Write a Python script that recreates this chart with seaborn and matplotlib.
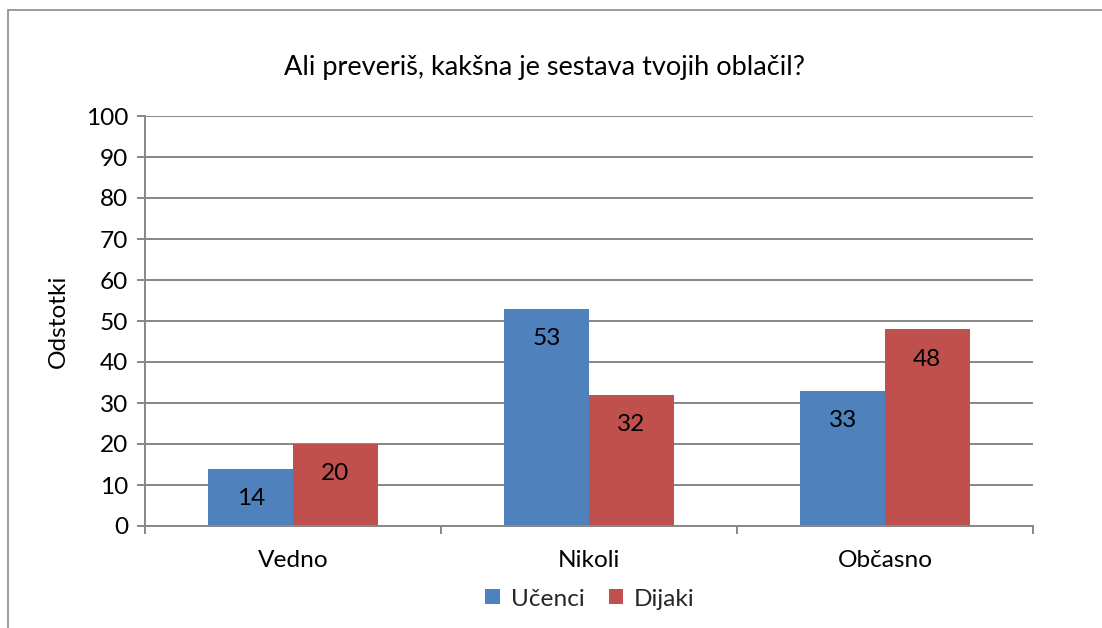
import matplotlib
matplotlib.use("Agg")
import matplotlib.pyplot as plt
import seaborn as sns
import pandas as pd
from matplotlib.patches import Rectangle

categories = ["Vedno", "Nikoli", "Občasno"]
ucenci = [14, 53, 33]
dijaki = [20, 32, 48]
series_names = ["Učenci", "Dijaki"]
yticks = list(range(0, 101, 10))

df = pd.DataFrame({
    "kategorija": categories * 2,
    "vrednost": ucenci + dijaki,
    "skupina": [series_names[0]] * 3 + [series_names[1]] * 3,
})

sns.set_theme(style="white")
plt.rcParams['font.family'] = ['Lato', 'DejaVu Sans']

FS = 17.6
W, H = 1102, 628
fig = plt.figure(figsize=(W / 100, H / 100), dpi=100)
ax = fig.add_axes([145 / W, 1 - 526 / H, (1033 - 145) / W, (526 - 116) / H])

grid_c = "#878787"
sns.barplot(data=df, x="kategorija", y="vrednost", hue="skupina",
            order=categories, hue_order=series_names,
            palette=["#4F81BD", "#C0504D"], width=0.571, ax=ax,
            saturation=1, edgecolor="none", legend=True)

ax.set_xlim(-0.5, 2.5)
ax.set_ylim(0, 100)
ax.set_yticks(yticks)
ax.yaxis.grid(True, color=grid_c, linewidth=1.4)
ax.set_axisbelow(True)
for s in ["top", "right"]:
    ax.spines[s].set_visible(False)
for s in ["left", "bottom"]:
    ax.spines[s].set_color(grid_c)
    ax.spines[s].set_linewidth(1.4)

ax.tick_params(axis="y", which="major", left=True, length=6, width=1.4,
               color=grid_c, labelsize=FS, pad=6, labelcolor="black")
ax.set_xticks([0, 1, 2])
ax.set_xticklabels(categories)
ax.set_xticks([-0.5, 0.5, 1.5, 2.5], minor=True)
ax.tick_params(axis="x", which="major", bottom=False, length=0, labelsize=FS,
               pad=17, labelcolor="black")
ax.tick_params(axis="x", which="minor", bottom=True, length=6, width=1.4,
               color=grid_c)
ax.set_xlabel("")
ax.set_ylabel("Odstotki", fontsize=FS, color="black")
ax.yaxis.set_label_coords(-0.086, 0.5)

for cont in ax.containers:
    for p in cont.patches:
        ax.annotate(f"{p.get_height():.0f}",
                    xy=(p.get_x() + p.get_width() / 2, p.get_height()),
                    xytext=(0, -21.5), textcoords="offset points",
                    ha="center", va="center", fontsize=FS, color="black")

handles, labels = ax.get_legend_handles_labels()
ax.get_legend().remove()
fig.legend(handles, labels, loc="center", bbox_to_anchor=(590 / W, 1 - 599 / H),
           ncol=2, frameon=False, fontsize=FS, handlelength=0.58, handleheight=0.58,
           handletextpad=0.45, columnspacing=1.0)

fig.text(545 / W, 1 - 68 / H, "Ali preveriš, kakšna je sestava tvojih oblačil?",
         ha="center", va="center", fontsize=19.5, color="black")

fig.patches.append(Rectangle((8 / W, -0.1), 1.2, 1 - 10 / H + 0.1,
                             transform=fig.transFigure, fill=False,
                             edgecolor="#8a8a8a", linewidth=1.2))

fig.savefig("out.png", dpi=100)
